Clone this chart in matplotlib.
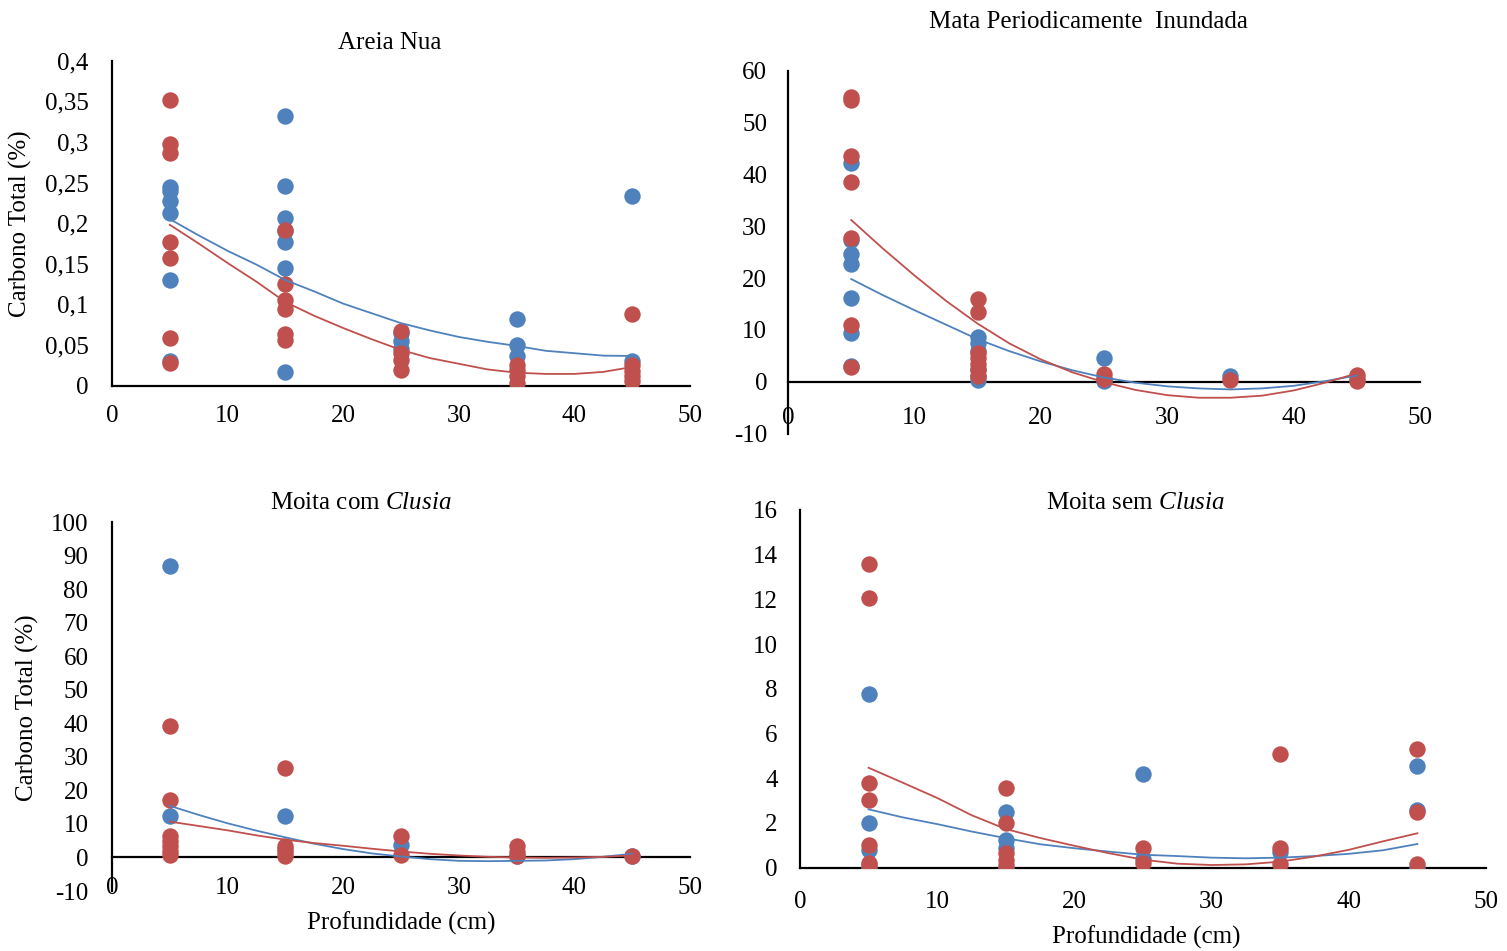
import matplotlib
matplotlib.use("Agg")
import matplotlib.pyplot as plt
from matplotlib.ticker import FixedLocator, FuncFormatter

plt.rcParams["font.family"] = ["Liberation Serif", "DejaVu Serif"]
plt.rcParams["mathtext.fontset"] = "custom"
plt.rcParams["mathtext.rm"] = "Liberation Serif"
plt.rcParams["mathtext.it"] = "Liberation Serif:italic"

AZUL = "#4F81BD"
VERMELHO = "#C0504D"

# Profundidades amostradas (cm)
profundidade = [5, 15, 25, 35, 45]
# Abscissas das linhas de tendência (cm)
x_tendencia = [5, 7.5, 10, 12.5, 15, 17.5, 20, 22.5, 25,
               27.5, 30, 32.5, 35, 37.5, 40, 42.5, 45]

# --- Areia Nua: carbono total (%) por profundidade ---
areia_azul = [
    [0.245, 0.240, 0.227, 0.213, 0.130, 0.030],
    [0.332, 0.246, 0.207, 0.190, 0.177, 0.145, 0.017],
    [0.065, 0.055, 0.045],
    [0.082, 0.050, 0.036],
    [0.234, 0.030],
]
areia_vermelho = [
    [0.352, 0.298, 0.287, 0.177, 0.157, 0.059, 0.028],
    [0.192, 0.125, 0.105, 0.095, 0.064, 0.056],
    [0.067, 0.040, 0.032, 0.019],
    [0.025, 0.019, 0.012, 0.003],
    [0.088, 0.025, 0.018, 0.012, 0.006],
]
areia_tend_azul = [0.205, 0.185, 0.166, 0.149, 0.130, 0.116, 0.101, 0.089, 0.077,
                   0.068, 0.060, 0.054, 0.049, 0.043, 0.040, 0.037, 0.0366]
areia_tend_vermelho = [0.198, 0.175, 0.151, 0.128, 0.103, 0.086, 0.071, 0.057, 0.044,
                       0.034, 0.027, 0.020, 0.016, 0.0145, 0.0145, 0.017, 0.023]

# --- Mata Periodicamente Inundada ---
mata_azul = [
    [42.1, 27.3, 24.6, 22.7, 16.2, 9.3, 3.1],
    [8.6, 7.4, 6.0, 2.5, 1.0, 0.3],
    [4.6, 0.5, 0.1],
    [1.0],
    [0.5],
]
mata_vermelho = [
    [55.0, 54.3, 43.6, 38.6, 27.8, 10.9, 2.9],
    [15.9, 13.5, 5.5, 4.5, 3.5, 2.3, 1.0],
    [1.5, 0.5],
    [0.3],
    [1.3, 0.1],
]
mata_tend_azul = [19.8, 16.7, 13.8, 11.0, 8.2, 5.9, 3.9, 2.2, 0.8,
                  -0.2, -0.9, -1.3, -1.5, -1.3, -0.8, 0.1, 1.2]
mata_tend_vermelho = [31.2, 25.7, 20.5, 15.6, 11.2, 7.4, 4.3, 1.8, -0.1,
                      -1.6, -2.6, -3.1, -3.1, -2.7, -1.7, -0.2, 1.6]

# --- Moita com Clusia ---
com_azul = [
    [87.0, 12.5],
    [12.5],
    [3.8],
    [0.5],
    [0.5],
]
com_vermelho = [
    [39.3, 17.2, 6.5, 5.0, 3.5, 2.0, 0.8],
    [26.8, 3.5, 2.5, 1.5, 0.5],
    [6.3, 0.8],
    [3.3, 1.5, 0.3],
    [0.3],
]
com_tend_azul = [15.4, 12.7, 10.2, 8.0, 6.0, 4.1, 2.5, 1.2, 0.3,
                 -0.5, -1.0, -1.1, -1.0, -0.9, -0.5, 0.2, 1.1]
com_tend_vermelho = [10.7, 9.4, 8.1, 6.6, 5.3, 4.3, 3.5, 2.6, 1.8,
                     1.1, 0.6, 0.2, 0.0, -0.1, 0.0, 0.2, 0.6]

# --- Moita sem Clusia ---
sem_azul = [
    [7.77, 1.99, 0.79, 0.0],
    [2.51, 1.24, 0.9, 0.0],
    [4.21, 0.4],
    [0.7],
    [4.57, 2.6, 0.0],
]
sem_vermelho = [
    [13.59, 12.08, 3.78, 3.03, 1.02, 0.2, 0.1],
    [3.58, 1.99, 0.64, 0.35, 0.1],
    [0.9, 0.22],
    [5.09, 0.87, 0.15],
    [5.3, 2.5, 0.15],
]
sem_tend_azul = [2.61, 2.25, 1.95, 1.62, 1.32, 1.05, 0.87, 0.72, 0.58,
                 0.52, 0.45, 0.42, 0.45, 0.52, 0.62, 0.78, 1.06]
sem_tend_vermelho = [4.47, 3.80, 3.12, 2.35, 1.73, 1.33, 0.98, 0.65, 0.36,
                     0.18, 0.12, 0.15, 0.27, 0.50, 0.80, 1.18, 1.54]

W, H = 1507, 951
FS = 18
fig = plt.figure(figsize=(W / 100, H / 100), dpi=100)


def eixo(x0, x1, ytop, ybot):
    return fig.add_axes([x0 / W, 1 - ybot / H, (x1 - x0) / W, (ybot - ytop) / H])


def virgula(v, pos):
    s = f"{v:.2f}".rstrip("0").rstrip(".")
    return s.replace(".", ",")


def painel(ax, azul, vermelho, t_azul, t_verm, yticks, ypad, xpad):
    for grupo, cor in ((azul, AZUL), (vermelho, VERMELHO)):
        xs, ys = [], []
        for d, vals in zip(profundidade, grupo):
            xs += [d] * len(vals)
            ys += vals
        ax.scatter(xs, ys, s=140, color=cor, linewidths=0, zorder=3)
    ax.plot(x_tendencia, t_azul, color=AZUL, lw=1.3, zorder=4)
    ax.plot(x_tendencia, t_verm, color=VERMELHO, lw=1.3, zorder=4)
    ax.set_xlim(0, 50)
    ax.set_ylim(yticks[0], yticks[-1])
    ax.xaxis.set_major_locator(FixedLocator([0, 10, 20, 30, 40, 50]))
    ax.yaxis.set_major_locator(FixedLocator(yticks))
    ax.yaxis.set_major_formatter(FuncFormatter(virgula))
    for s in ("top", "right"):
        ax.spines[s].set_visible(False)
    ax.spines["bottom"].set_position(("data", 0))
    for s in ("left", "bottom"):
        ax.spines[s].set_linewidth(1.6)
        ax.spines[s].set_color("black")
    ax.tick_params(axis="y", length=0, pad=ypad, labelsize=FS)
    ax.tick_params(axis="x", length=0, pad=xpad, labelsize=FS)
    ax.set_facecolor("none")


ax1 = eixo(112, 690, 60.7, 385.7)
painel(ax1, areia_azul, areia_vermelho, areia_tend_azul, areia_tend_vermelho,
       [0, 0.05, 0.1, 0.15, 0.2, 0.25, 0.3, 0.35, 0.4], 17, 14)

ax2 = eixo(788, 1420, 70.7, 433.5)
painel(ax2, mata_azul, mata_vermelho, mata_tend_azul, mata_tend_vermelho,
       [-10, 0, 10, 20, 30, 40, 50, 60], 15, 18)

ax3 = eixo(112, 690, 522.3, 891.0)
painel(ax3, com_azul, com_vermelho, com_tend_azul, com_tend_vermelho,
       list(range(-10, 101, 10)), 17, 14)

ax4 = eixo(800, 1486, 510.0, 867.7)
painel(ax4, sem_azul, sem_vermelho, sem_tend_azul, sem_tend_vermelho,
       list(range(0, 17, 2)), 16, 17)

fig.text(390 / W, 1 - 43 / H, "Areia Nua", ha="center", va="center", fontsize=FS)
fig.text(1088 / W, 1 - 22 / H, "Mata Periodicamente  Inundada", ha="center", va="center", fontsize=FS)
fig.text(361 / W, 1 - 503 / H, r"Moita com $\mathit{Clusia}$", ha="center", va="center", fontsize=FS)
fig.text(1135 / W, 1 - 503 / H, r"Moita sem $\mathit{Clusia}$", ha="center", va="center", fontsize=FS)

fig.text(20 / W, 1 - 224 / H, "Carbono Total (%)", rotation=90, ha="center", va="center", fontsize=FS)
fig.text(27 / W, 1 - 708 / H, "Carbono Total (%)", rotation=90, ha="center", va="center", fontsize=FS)
fig.text(401 / W, 1 - 923 / H, "Profundidade (cm)", ha="center", va="center", fontsize=FS)
fig.text(1146 / W, 1 - 937 / H, "Profundidade (cm)", ha="center", va="center", fontsize=FS)

fig.savefig("out.png", dpi=100, facecolor="white")
